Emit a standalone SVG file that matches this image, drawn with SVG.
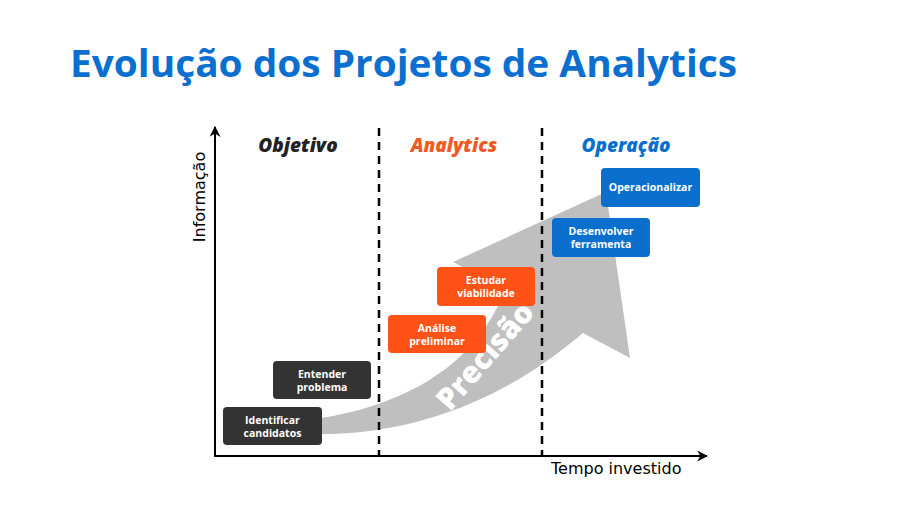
<svg xmlns="http://www.w3.org/2000/svg" width="900" height="506" viewBox="0 0 900 506">
<defs>
<style>
.box-dark{fill:#333333}
.box-orange{fill:#fe5216}
.box-blue{fill:#0a6fcd}
.btxt{font-family:"Open Sans","Liberation Sans",sans-serif;font-weight:700;font-size:10.5px;fill:#ffffff;text-anchor:middle}
.head{font-family:"Open Sans","Liberation Sans",sans-serif;font-weight:800;font-style:italic;font-size:19px;text-anchor:middle}
.axis{stroke:#000;stroke-width:2;fill:none}
.dash{stroke:#000;stroke-width:2.5;stroke-dasharray:8 6;fill:none}
.alabel{font-family:"DejaVu Sans",sans-serif;font-size:16px;fill:#000}
</style>
<marker id="ah" viewBox="0 0 10 10" refX="9" refY="5" markerWidth="11" markerHeight="11" markerUnits="userSpaceOnUse" orient="auto">
<path d="M0,0 L10,5 L0,10 L3,5 Z" fill="#000"/>
</marker>
</defs>
<rect width="900" height="506" fill="#ffffff"/>
<text x="70" y="77" font-family="'Open Sans','Liberation Sans',sans-serif" font-weight="700" font-size="37" fill="#0a6fcf" textLength="667" lengthAdjust="spacingAndGlyphs">Evolução dos Projetos de Analytics</text>

<g id="arrow">
<path d="M300,421 C380,412 470,380 505,290 L453,262 L606,192 L630,358 L583,333 C545,365 450,440 300,434 Z" fill="#bfbfbf"/>
<text transform="translate(450,412) rotate(-49)" font-family="'Open Sans','Liberation Sans',sans-serif" font-weight="800" font-size="30" fill="#ffffff">Precisão</text>
</g>

<g id="connectors">
<line class="axis" x1="215" y1="457" x2="215" y2="127" marker-end="url(#ah)"/>
<line class="axis" x1="214" y1="456" x2="707" y2="456" marker-end="url(#ah)"/>
<line class="dash" x1="379" y1="128" x2="379" y2="456"/>
<line class="dash" x1="542" y1="128" x2="542" y2="456"/>
</g>

<text class="alabel" transform="translate(205,197) rotate(-90)" text-anchor="middle" font-size="16.5">Informação</text>
<text class="alabel" x="551" y="474" font-size="16">Tempo investido</text>

<text class="head" x="298" y="152" fill="#222222">Objetivo</text>
<text class="head" x="454" y="152" fill="#f05a22">Analytics</text>
<text class="head" x="626" y="152" fill="#0a6fcd">Operação</text>

<g id="identificar">
<rect class="box-dark" x="223" y="407" width="99" height="38" rx="4"/>
<text class="btxt" x="272.5" y="423.5">Identificar</text>
<text class="btxt" x="272.5" y="436.5">candidatos</text>
</g>
<g id="entender">
<rect class="box-dark" x="273" y="361" width="98" height="38" rx="4"/>
<text class="btxt" x="322" y="377.5">Entender</text>
<text class="btxt" x="322" y="390.5">problema</text>
</g>
<g id="analise">
<rect class="box-orange" x="388" y="315" width="98" height="38" rx="4"/>
<text class="btxt" x="437" y="331.5">Análise</text>
<text class="btxt" x="437" y="344.5">preliminar</text>
</g>
<g id="estudar">
<rect class="box-orange" x="437" y="267" width="98" height="39" rx="4"/>
<text class="btxt" x="486" y="283.5">Estudar</text>
<text class="btxt" x="486" y="296.5">viabilidade</text>
</g>
<g id="desenvolver">
<rect class="box-blue" x="552" y="218" width="98" height="39" rx="4"/>
<text class="btxt" x="601" y="234.5">Desenvolver</text>
<text class="btxt" x="601" y="247.5">ferramenta</text>
</g>
<g id="operacionalizar">
<rect class="box-blue" x="601" y="168" width="99" height="39" rx="4"/>
<text class="btxt" x="650.5" y="191">Operacionalizar</text>
</g>
</svg>
